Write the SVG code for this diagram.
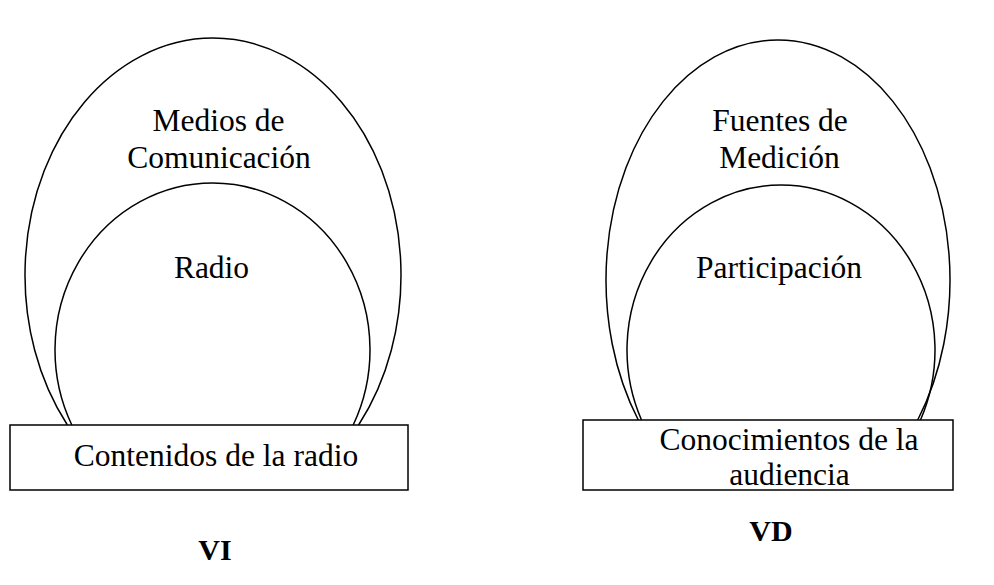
<svg xmlns="http://www.w3.org/2000/svg" width="994" height="585" viewBox="0 0 994 585">
<style>
.ln{fill:none;stroke:#000;stroke-width:1.5}
.bx{fill:#fff;stroke:#000;stroke-width:1.5}
.t{font-family:"Liberation Serif","Times New Roman",serif;font-size:31.5px;fill:#000;text-anchor:middle}
.b{font-family:"Liberation Serif","Times New Roman",serif;font-size:30px;font-weight:bold;fill:#000;text-anchor:middle}
</style>
<rect width="994" height="585" fill="#fff"/>
<g id="left">
<g id="medios"><path class="ln" d="M67.4 425 A188 237 0 1 1 358.6 425"/><text class="t" x="218.5" y="131">Medios de</text><text class="t" x="219" y="168">Comunicación</text></g>
<g id="radio"><path class="ln" d="M71.8 425 A157.5 167 0 1 1 353.2 425"/><text class="t" x="211.5" y="278">Radio</text></g>
<g id="contenidos"><rect class="bx" x="10" y="425" width="398" height="65"/><text class="t" x="216" y="466">Contenidos de la radio</text></g>
<g id="vi"><text class="b" x="215" y="560">VI</text></g>
</g>
<g id="right">
<g id="fuentes"><path class="ln" d="M638.3 420 A172 240 0 1 1 917.7 420"/><text class="t" x="780" y="131">Fuentes de</text><text class="t" x="779.5" y="168">Medición</text></g>
<g id="participacion"><path class="ln" d="M641.5 420 A154 165 0 1 1 920.5 420"/><text class="t" x="779" y="278">Participación</text></g>
<g id="conocimientos"><rect class="bx" x="583" y="420" width="370" height="70"/><text class="t" x="789" y="450">Conocimientos de la</text><text class="t" x="789.5" y="485">audiencia</text></g>
<g id="vd"><text class="b" x="771" y="541">VD</text></g>
</g>
<g id="connectors"></g>
</svg>
